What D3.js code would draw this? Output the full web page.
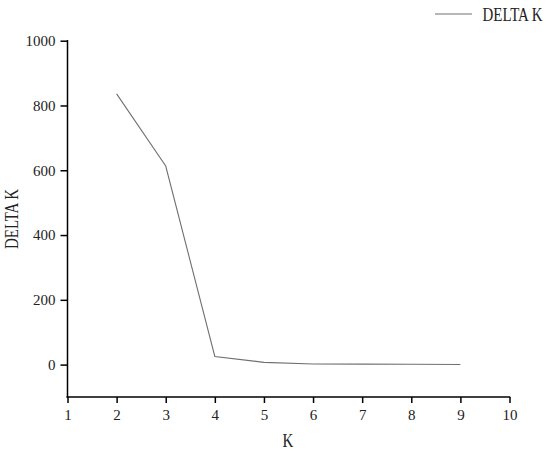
<!DOCTYPE html>
<html><head><meta charset="utf-8">
<script src="https://cdn.jsdelivr.net/npm/d3@7"></script>
<style>
body{margin:0;background:#fff}svg{display:block}
svg text{font-family:"Liberation Serif","DejaVu Serif","Times New Roman",serif;fill:#222}
</style>
</head><body>
<svg id="c" width="550" height="453"></svg>
<script>
const kValues = [2, 3, 4, 5, 6, 7, 8, 9];
const deltaK = [836, 613, 25, 7, 2, 1.5, 1, 0.5];
const xTicks = [1, 2, 3, 4, 5, 6, 7, 8, 9, 10];
const yTicks = [0, 200, 400, 600, 800, 1000];
const seriesName = "DELTA K";
const xTitle = "K";
const yTitle = "DELTA K";

const svg = d3.select("#c");
const x = d3.scaleLinear().domain([1, 10]).range([67.5, 509.5]);
const y = d3.scaleLinear().domain([-100, 1000]).range([397, 40.7]);

// X axis
const gx = svg.append("g").attr("transform", `translate(0,${y(-100)})`);
gx.call(d3.axisBottom(x).tickValues(d3.range(1.5, 10, 1)).tickSize(3).tickFormat(""));
gx.call(d3.axisBottom(x).tickValues(xTicks).tickSize(6).tickPadding(6).tickFormat(d3.format("d")));
gx.selectAll(".domain").remove();
gx.append("line").attr("x1", x(1) - 1).attr("x2", x(10) + 0.75).attr("stroke", "#000").attr("stroke-width", 1.5);
gx.selectAll("line").attr("stroke", "#000").attr("stroke-width", 1.5);
gx.selectAll("text").style("font-size", "15px");

// Y axis
const gy = svg.append("g").attr("transform", `translate(${x(1)},0)`);
gy.call(d3.axisLeft(y).tickValues(d3.range(-100, 1000, 200)).tickSize(4).tickFormat(""));
gy.call(d3.axisLeft(y).tickValues(yTicks).tickSize(7).tickPadding(5).tickFormat(d3.format("d")));
gy.selectAll(".domain").remove();
gy.append("line").attr("y1", y(1000) - 0.75).attr("y2", y(-100) + 0.75).attr("stroke", "#000").attr("stroke-width", 1.5);
gy.selectAll("line").attr("stroke", "#000").attr("stroke-width", 1.5);
gy.selectAll("text").style("font-size", "15px");
gx.attr("font-family", null);
gy.attr("font-family", null);

// Line
const pts = kValues.map((k, i) => [k, deltaK[i]]);
svg.append("path").datum(pts)
  .attr("fill", "none").attr("stroke", "#707070").attr("stroke-width", 1.1)
  .attr("d", d3.line().x(d => x(d[0])).y(d => y(d[1])));

// Titles
svg.append("text").attr("transform", "translate(288,447) scale(1,1.25)").attr("text-anchor", "middle")
  .style("font-size", "15px").text(xTitle);
svg.append("text").attr("transform", "translate(18,219) rotate(-90) scale(1,1.25)").attr("text-anchor", "middle")
  .style("font-size", "15px")
  .attr("textLength", 60).attr("lengthAdjust", "spacingAndGlyphs").text(yTitle);

// Legend
svg.append("line").attr("x1", 435).attr("x2", 472).attr("y1", 14).attr("y2", 14)
  .attr("stroke", "#707070").attr("stroke-width", 1.1);
svg.append("text").attr("transform", "translate(482.5,21) scale(1,1.25)")
  .style("font-size", "15px")
  .attr("textLength", 60).attr("lengthAdjust", "spacingAndGlyphs").text(seriesName);
</script>
</body></html>
